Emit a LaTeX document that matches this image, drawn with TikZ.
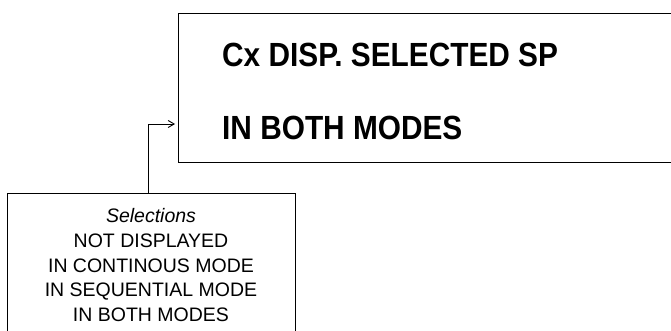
\documentclass[tikz,border=0pt]{standalone}
\usepackage{fontspec}
\setmainfont{Liberation Sans}
\newfontfamily\dispfont[FakeStretch=0.89]{Liberation Sans}
\usetikzlibrary{arrows.meta}

\tikzset{
  dispbox/.style={draw,line width=.9pt,minimum width=540pt,minimum height=149pt,anchor=north west,inner sep=0pt},
  disptext/.style={anchor=base west,inner sep=0pt,font=\dispfont\bfseries\fontsize{33.5}{40}\selectfont},
  selbox/.style={draw,line width=.9pt,minimum width=288pt,anchor=north,align=center,inner xsep=0pt,inner ysep=15pt,
    font=\fontsize{19.5}{24.75}\selectfont},
  conn/.style={line width=.9pt,-{Straight Barb[length=6pt,width=7pt,line width=.9pt]},shorten >=3pt}
}

\begin{document}
\begin{tikzpicture}[x=1pt,y=1pt]
  \useasboundingbox (0,0) rectangle (671,-331);
  \node[dispbox] (disp) at (178,-13) {};
  \node[disptext] (line1) at (222,-67) {Cx DISP. SELECTED SP};
  \node[disptext] (line2) at (222,-140) {IN BOTH MODES};
  \node[selbox] (sel) at (151,-193) {\textit{Selections}\\NOT DISPLAYED\\IN CONTINOUS MODE\\IN SEQUENTIAL MODE\\IN BOTH MODES};
  % connector from the selections box up to the display
  \coordinate (bend) at (148,-124);
  \draw[conn] (bend |- sel.north) -- (bend) -- (disp.west |- bend);
\end{tikzpicture}
\end{document}
